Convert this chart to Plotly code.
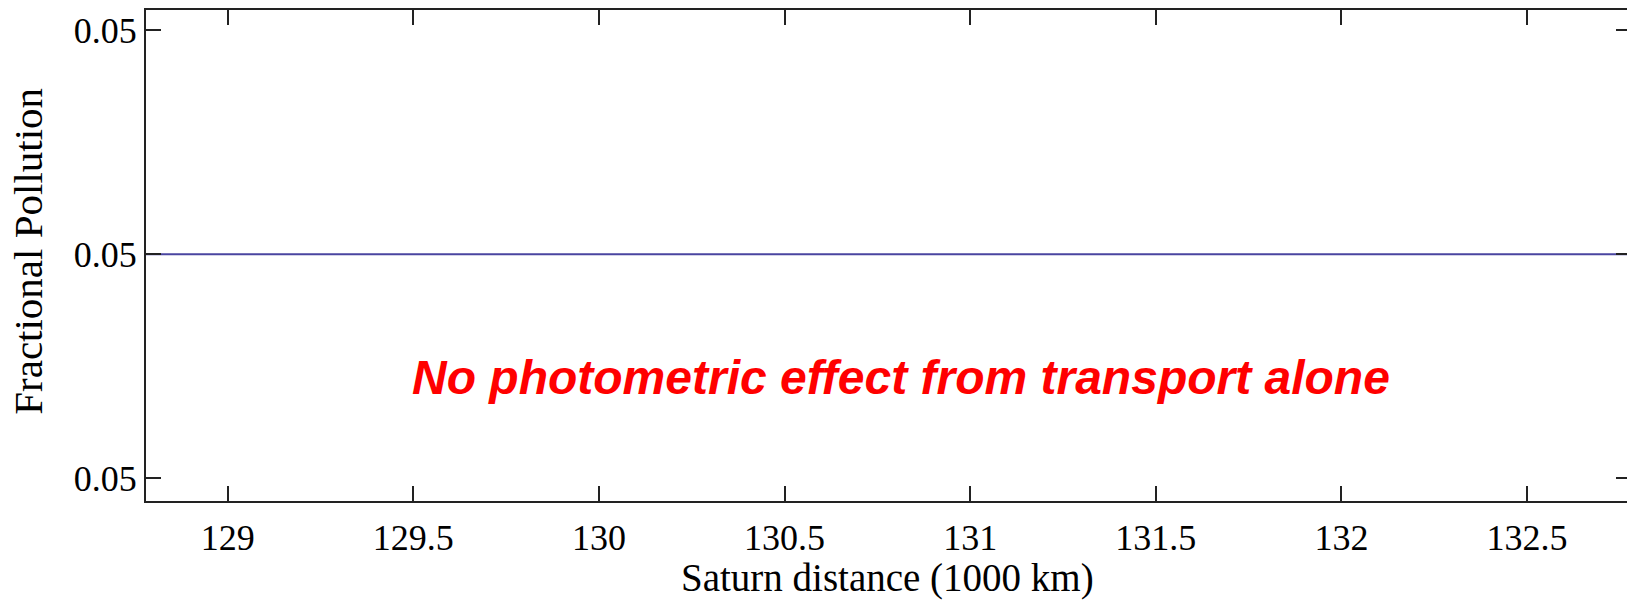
import plotly.graph_objects as go

# Data
distance_km1000 = [128.78, 132.78]
fractional_pollution = [0.05, 0.05]

x_tick_vals = [129, 129.5, 130, 130.5, 131, 131.5, 132, 132.5]
x_tick_text = ["129", "129.5", "130", "130.5", "131", "131.5", "132", "132.5"]
y_tick_vals = [0.0499, 0.05, 0.0501]
y_tick_text = ["0.05", "0.05", "0.05"]

x_title = "Saturn distance (1000 km)"
y_title = "Fractional Pollution"
annotation_text = "No photometric effect from transport alone"

fig = go.Figure()
fig.add_trace(go.Scatter(
    x=distance_km1000, y=fractional_pollution, mode="lines",
    line=dict(color="#4a45a0", width=2), showlegend=False,
))

serif = "Liberation Serif"
fig.update_layout(
    width=1640, height=603,
    margin=dict(l=146, r=7, t=10, b=102),
    paper_bgcolor="white", plot_bgcolor="white",
    xaxis=dict(
        range=[128.78, 132.78],
        tickvals=x_tick_vals, ticktext=x_tick_text,
        ticks="inside", ticklen=15, tickwidth=1.5, tickcolor="#222",
        showline=True, linecolor="#222", linewidth=2, mirror="ticks",
        showgrid=False, zeroline=False,
        tickfont=dict(family=serif, size=36, color="black"),
        ticklabelstandoff=4,
    ),
    yaxis=dict(
        range=[0.04988996, 0.05010896],
        tickvals=y_tick_vals, ticktext=y_tick_text,
        ticks="inside", ticklen=15, tickwidth=1.5, tickcolor="#222",
        showline=True, linecolor="#222", linewidth=2, mirror="ticks",
        showgrid=False, zeroline=False,
        tickfont=dict(family=serif, size=36, color="black"),
        ticklabelstandoff=0,
    ),
    annotations=[
        dict(
            text="<b><i>" + annotation_text + "</i></b>",
            x=130.815, y=0.049945, xref="x", yref="y",
            showarrow=False, xanchor="center", yanchor="middle",
            font=dict(family="Liberation Sans", size=48, color="#ff0000"),
        ),
        dict(
            text=x_title, x=0.4995, y=-0.157, xref="paper", yref="paper",
            showarrow=False, xanchor="center", yanchor="middle",
            font=dict(family=serif, size=39, color="black"),
        ),
        dict(
            text=y_title, x=-0.080, y=0.508, xref="paper", yref="paper",
            showarrow=False, xanchor="center", yanchor="middle", textangle=-90,
            font=dict(family=serif, size=41, color="black"),
        ),
    ],
)

fig.write_html(
    "out.html",
    config={"displayModeBar": False},
    post_script="document.body.style.margin='0';document.body.style.overflow='hidden';document.documentElement.style.overflow='hidden';",
)
